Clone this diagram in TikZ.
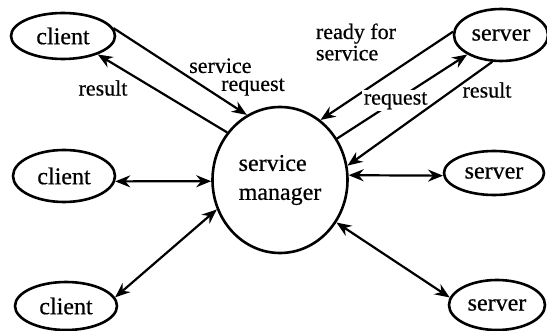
\documentclass[tikz,border=0pt]{standalone}
\usepackage{fontspec}
\setmainfont{Liberation Serif}[FakeBold=0.5]
\usetikzlibrary{shapes.geometric,arrows.meta}
\begin{document}
\begin{tikzpicture}[x=0.5pt,y=-0.5pt,
  proc/.style={ellipse,draw,line width=1.3pt,inner sep=0pt,
    font=\fontsize{12}{12}\selectfont},
  tip/.tip={Stealth[length=7.5pt,width=6pt,inset=2.5pt]},
  link/.style={line width=1.1pt,-tip},
  both/.style={line width=1.1pt,tip-tip},
  lbl/.style={font=\fontsize{11}{9}\selectfont,inner sep=0pt,align=left}]
\useasboundingbox (0,0) rectangle (547,331);

% clients on the left
\node[proc,minimum width=52pt,minimum height=23pt] (c1) at (63,36)  {client};
\node[proc,minimum width=51pt,minimum height=26pt] (c2) at (64,176) {client};
\node[proc,minimum width=51pt,minimum height=24pt] (c3) at (66,306) {client};

% servers on the right
\node[proc,minimum width=47pt,minimum height=26pt] (s1) at (501,35)  {server};
\node[proc,minimum width=50pt,minimum height=22pt] (s2) at (494,173) {server};
\node[proc,minimum width=48pt,minimum height=25pt] (s3) at (497,305) {server};

% the manager in the middle
\node[proc,align=left,minimum width=67.5pt,minimum height=73pt,
  font=\fontsize{12}{14.5}\selectfont] (sm) at (280,180) {service\\manager};

% request / result traffic
\draw[link] (c1.9) -- (sm.117);
\draw[link] (sm.138) -- (c1.-28);
\draw[link] (s1.176) -- (sm.56);
\draw[link] (sm.36) -- node[lbl,fill=white,inner sep=1pt,pos=0.45] (l5) {request} (s1.-150);
\draw[link] (s1.-108) -- (sm.12);

% two-way links
\draw[both] (c2.-6) -- (sm.181);
\draw[both] (sm.4) -- (s2.183);
\draw[both] (c3.10) -- (sm.205);
\draw[both] (sm.-37) -- (s3.171);

% labels
\node[lbl] (l1) at (237,77) {service\\\hspace*{16pt}request};
\node[lbl] (l2) at (103,88) {result};
\node[lbl] (l3) at (356,42) {ready for\\service};
\node[lbl] (l4) at (487,90) {result};
\end{tikzpicture}
\end{document}
